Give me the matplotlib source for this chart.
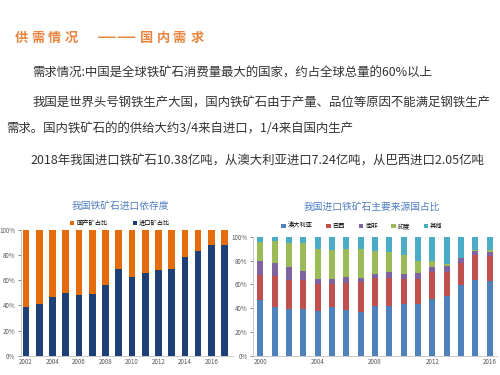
import matplotlib
matplotlib.use('Agg')
import matplotlib.pyplot as plt
import numpy as np

plt.rcParams['font.family'] = ['Noto Sans CJK SC', 'DejaVu Sans']

# textos de la diapositiva
titulo = ['供', '需', '情', '况', '国', '内', '需', '求']
lineas = [
    '需求情况:中国是全球铁矿石消费量最大的国家，约占全球总量的60%以上',
    '我国是世界头号钢铁生产大国，国内铁矿石由于产量、品位等原因不能满足钢铁生产',
    '需求。国内铁矿石的的供给大约3/4来自进口，1/4来自国内生产',
    '2018年我国进口铁矿石10.38亿吨，从澳大利亚进口7.24亿吨，从巴西进口2.05亿吨',
]

# grafico izquierdo: dependencia de importacion
anios_izq = list(range(2002, 2018))
importado = [39, 41.5, 46.8, 49.7, 48.1, 49.2, 56.1, 69.1, 62.8, 65.4, 67.8, 69.1, 78.7, 83, 87.8, 88]
nacional = [100 - v for v in importado]

# grafico derecho: origen de las importaciones
anios_der = list(range(2000, 2017))
australia = [47, 41, 39, 39.5, 37.5, 41, 38.5, 37, 41.5, 41.5, 43.5, 43.5, 47.3, 50.5, 59, 63.8, 62.5]
brasil = [21, 26, 25, 24.5, 22.5, 19, 22.8, 25, 24, 23.5, 20.6, 20.6, 23.3, 20.1, 18.6, 20.8, 21.3]
sudafrica = [12, 11, 10.2, 7.4, 4.5, 4.3, 4.5, 3.5, 3, 5, 4.4, 5.4, 3.9, 4.4, 4.2, 3.6, 3.6]
india = [15.5, 18.6, 20.8, 23, 24.9, 24.7, 23.6, 23.9, 19.2, 17.4, 16.1, 10.3, 4.9, 1.8, 0.7, 0.6, 1.4]
otros = [4.5, 3.4, 5, 5.6, 10.6, 11, 10.6, 10.6, 12.3, 12.6, 15.4, 20.2, 20.6, 23.2, 17.5, 11.2, 11.2]

fig = plt.figure(figsize=(5, 3.75), dpi=100)

naranja = '#E8843E'
# titulo con espaciado
pos_x = [21, 38, 54, 71, 147, 163, 179, 197]
for ch, px in zip(titulo, pos_x):
    fig.text(px / 500, 1 - 38 / 375, ch, color=naranja, fontsize=9.5,
             fontweight='bold', ha='center', va='center')
fig.text(117 / 500, 1 - 38 / 375, '——', color=naranja, fontsize=14,
         ha='center', va='center', family='DejaVu Sans')

# parrafos
pos_lineas = [(32, 73), (32, 103), (6, 129), (30, 161)]
for txt, (px, py) in zip(lineas, pos_lineas):
    fig.text(px / 500, 1 - py / 375, txt, color='#333333', fontsize=8.95,
             ha='left', va='center')

gris = '#595959'

# ---- grafico izquierdo ----
ax1 = fig.add_axes([20.7 / 500, 19.3 / 375, 211.9 / 500, 125.7 / 375])
x1 = np.arange(len(anios_izq))
ax1.bar(x1, importado, width=0.5, color='#1F3F77', label='进口矿占比')
ax1.bar(x1, nacional, width=0.5, bottom=importado, color='#E46C0A', label='国产矿占比')
ax1.set_xlim(-0.4, len(anios_izq) - 0.4)
ax1.set_ylim(0, 100)
ax1.set_yticks(range(0, 101, 20))
ax1.set_yticklabels([f'{v}%' for v in range(0, 101, 20)])
ax1.set_xticks(x1[::2])
ax1.set_xticklabels([str(a) for a in anios_izq[::2]])
fig.text(120 / 500, 1 - 206 / 375, '我国铁矿石进口依存度', color='#4F7FC0',
         fontsize=7, ha='center', va='center')
h, l = ax1.get_legend_handles_labels()
ax1.legend(h[::-1], l[::-1], loc='center', bbox_to_anchor=(120 / 500, 1 - 223 / 375),
           bbox_transform=fig.transFigure, ncol=2, frameon=False, fontsize=4.5,
           handlelength=0.7, handleheight=0.7, handletextpad=0.3, columnspacing=4)

# ---- grafico derecho ----
ax2 = fig.add_axes([253 / 500, 19.3 / 375, 244 / 500, 119 / 375])
x2 = np.arange(len(anios_der))
series = [('澳大利亚', australia, '#4F81BD'), ('巴西', brasil, '#C0504D'),
          ('南非', sudafrica, '#8064A2'), ('印度', india, '#9BBB59'),
          ('其他', otros, '#4BACC6')]
base = np.zeros(len(anios_der))
for nombre, vals, col in series:
    ax2.bar(x2, vals, width=0.42, bottom=base, color=col, label=nombre)
    base = base + np.array(vals)
ax2.set_xlim(-0.5, len(anios_der) - 0.5)
ax2.set_ylim(0, 100)
ax2.set_yticks(range(0, 101, 20))
ax2.set_yticklabels([f'{v}%' for v in range(0, 101, 20)])
ax2.set_xticks(x2[::4])
ax2.set_xticklabels([str(a) for a in anios_der[::4]])
fig.text(372 / 500, 1 - 207 / 375, '我国进口铁矿石主要来源国占比', color='#4F7FC0',
         fontsize=7, ha='center', va='center')
ax2.legend(loc='center', bbox_to_anchor=(362 / 500, 1 - 226 / 375),
           bbox_transform=fig.transFigure, ncol=5, frameon=False, fontsize=4.5,
           handlelength=0.7, handleheight=0.7, handletextpad=0.3, columnspacing=2.2)

for ax in (ax1, ax2):
    for s in ('top', 'right'):
        ax.spines[s].set_visible(False)
    for s in ('left', 'bottom'):
        ax.spines[s].set_color('#BFBFBF')
        ax.spines[s].set_linewidth(0.6)
    ax.tick_params(labelsize=4.5, colors=gris, length=2, width=0.5, pad=2)
    ax.tick_params(axis='x', length=0)

fig.savefig('out.png', dpi=100)
